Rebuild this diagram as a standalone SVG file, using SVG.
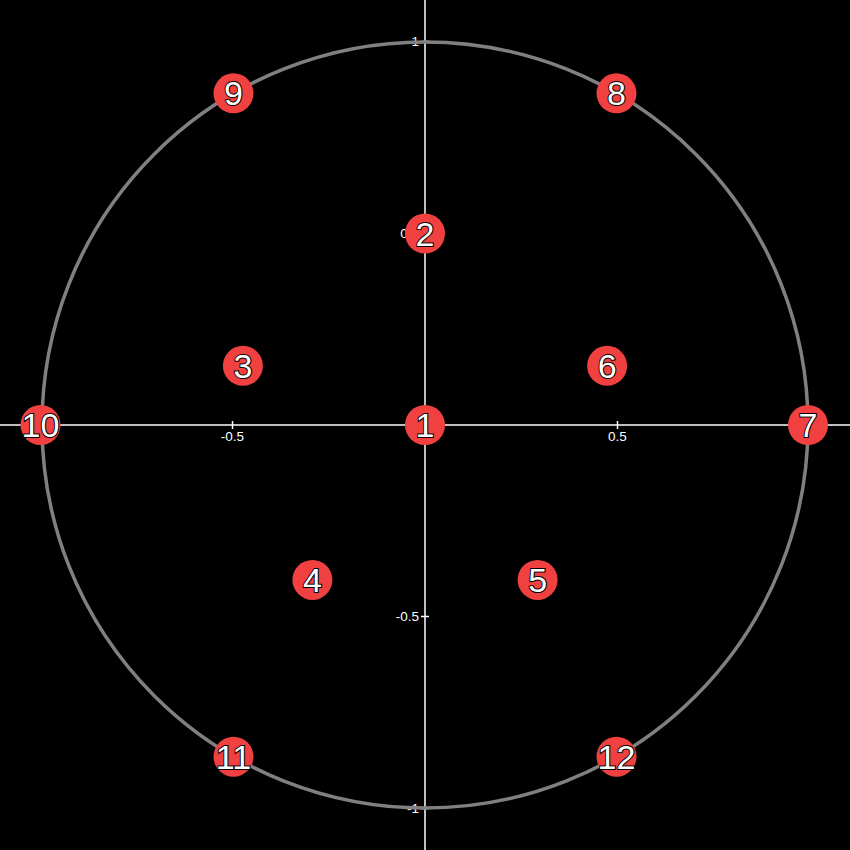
<svg xmlns="http://www.w3.org/2000/svg" width="850" height="850" viewBox="0 0 850 850">
<style>
.axis{stroke:#ffffff;stroke-width:1.5;fill:none}
.tick{stroke:#ffffff;stroke-width:1.5}
.tl{fill:#ffffff;font-family:"Liberation Sans",Arial,sans-serif;font-size:13.5px}
.node circle{fill:#f04040}
.node text{fill:#ffffff;stroke:#000000;stroke-width:2;paint-order:stroke;font-family:"Liberation Sans",Arial,sans-serif;font-size:34px;text-anchor:middle}
</style>
<rect width="850" height="850" fill="#000000"/>
<g id="axes">
<line class="axis" x1="0" y1="425" x2="850" y2="425"/>
<line class="axis" x1="425" y1="0" x2="425" y2="850"/>
<line class="tick" x1="232.5" y1="421" x2="232.5" y2="429"/>
<line class="tick" x1="617.5" y1="421" x2="617.5" y2="429"/>
<line class="tick" x1="421" y1="41.5" x2="429" y2="41.5"/>
<line class="tick" x1="421" y1="233.5" x2="429" y2="233.5"/>
<line class="tick" x1="421" y1="616.5" x2="429" y2="616.5"/>
<line class="tick" x1="421" y1="808.5" x2="429" y2="808.5"/>
<text class="tl" x="232.5" y="441" text-anchor="middle">-0.5</text>
<text class="tl" x="617.5" y="441" text-anchor="middle">0.5</text>
<text class="tl" x="419" y="46" text-anchor="end">1</text>
<text class="tl" x="419" y="238" text-anchor="end">0.5</text>
<text class="tl" x="419" y="621" text-anchor="end">-0.5</text>
<text class="tl" x="419" y="813" text-anchor="end">-1</text>
</g>
<g id="connectors">
<circle cx="425" cy="425" r="383" fill="none" stroke="#808080" stroke-width="3.5"/>
</g>
<g id="n1" class="node"><circle cx="425" cy="425" r="20"/><text x="425" y="437">1</text></g>
<g id="n2" class="node"><circle cx="425" cy="233.5" r="20"/><text x="425" y="245.5">2</text></g>
<g id="n3" class="node"><circle cx="242.9" cy="365.8" r="20"/><text x="242.9" y="377.8">3</text></g>
<g id="n4" class="node"><circle cx="312.4" cy="579.9" r="20"/><text x="312.4" y="591.9">4</text></g>
<g id="n5" class="node"><circle cx="537.6" cy="579.9" r="20"/><text x="537.6" y="591.9">5</text></g>
<g id="n6" class="node"><circle cx="607.1" cy="365.8" r="20"/><text x="607.1" y="377.8">6</text></g>
<g id="n7" class="node"><circle cx="808" cy="425" r="20"/><text x="808" y="437">7</text></g>
<g id="n8" class="node"><circle cx="616.5" cy="93.3" r="20"/><text x="616.5" y="105.3">8</text></g>
<g id="n9" class="node"><circle cx="233.5" cy="93.3" r="20"/><text x="233.5" y="105.3">9</text></g>
<g id="n10" class="node"><circle cx="40.5" cy="425" r="20"/><text x="40.5" y="437">10</text></g>
<g id="n11" class="node"><circle cx="233.5" cy="756.7" r="20"/><text x="233.5" y="768.7">11</text></g>
<g id="n12" class="node"><circle cx="616.5" cy="756.7" r="20"/><text x="616.5" y="768.7">12</text></g>
</svg>
